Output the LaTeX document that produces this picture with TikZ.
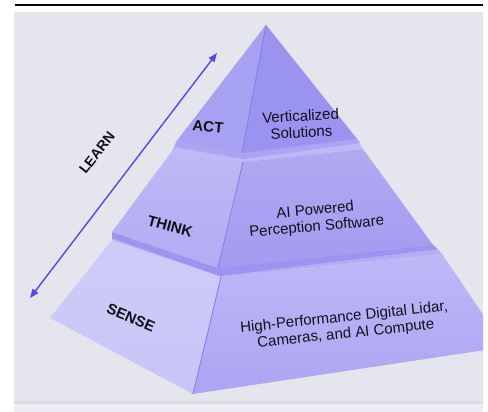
\documentclass[tikz,border=0pt]{standalone}
\usepackage{fontspec}
\setmainfont{Liberation Sans}
\usetikzlibrary{arrows.meta,calc}
\definecolor{bg}{HTML}{E5E5EE}
\definecolor{bgline}{HTML}{DADAE4}
\definecolor{bglow}{HTML}{EDEDF3}
\definecolor{actL}{HTML}{A7A1F2}
\definecolor{actR}{HTML}{9A93EF}
\definecolor{thkT}{HTML}{BDB8F6}
\definecolor{thkL}{HTML}{B2ACF4}
\definecolor{thkR}{HTML}{A29BF0}
\definecolor{snsT}{HTML}{B3ADF5}
\definecolor{snsL}{HTML}{CAC6F7}
\definecolor{snsR}{HTML}{ADA7F4}
\definecolor{ridge}{HTML}{8379EA}
\definecolor{shadowc}{HTML}{8A81EC}
\definecolor{arrowc}{HTML}{5548E0}
\definecolor{txt}{HTML}{111118}
\tikzset{
  lbl/.style={font=\fontsize{15}{16}\selectfont\bfseries, text=txt, inner sep=0pt},
  desc/.style={font=\fontsize{15}{16.5}\selectfont, text=txt, align=center, inner sep=0pt},
  ridgeline/.style={draw=ridge, line width=0.8pt},
  learnarrow/.style={draw=arrowc, line width=1.4pt, {Triangle[length=9pt,width=7pt]}-{Triangle[length=9pt,width=7pt]}}
}
\begin{document}
\begin{tikzpicture}[x=1pt,y=-1pt]
\useasboundingbox (0,0) rectangle (488,412);
\fill[white] (0,0) rectangle (488,412);
\fill[bg] (14,12) rectangle (483,401);
\fill[bgline] (14,401) rectangle (483,404);
\fill[bglow] (14,404) rectangle (483,412);
\draw[line width=2.5pt] (15,5) -- (483,5);
% coordinates
\coordinate (A) at (266,25);
\coordinate (L1) at (176,142);
\coordinate (F1) at (242,153);
\coordinate (R1) at (357,139);
\coordinate (L2t) at (172,151);
\coordinate (F2t) at (243,162);
\coordinate (R2t) at (363,149);
\coordinate (L2b) at (112,232);
\coordinate (F2b) at (218,268);
\coordinate (R2b) at (433,245);
\coordinate (L3t) at (112,240);
\coordinate (F3t) at (221,277);
\coordinate (R3t) at (442,254);
\coordinate (L3b) at (50,318);
\coordinate (F3b) at (193,394);
\coordinate (R3b) at (505,347);
\begin{scope}
\clip (14,12) rectangle (483,401);
% SENSE
\fill[snsT] (L3t) -- (F3t) -- (R3t) -- (R2b) -- (300,200) -- (L2b) -- cycle;
\shade[top color=snsL!90!white, bottom color=snsL!95!actL] (L3t) -- (F3t) -- (F3b) -- (L3b) -- cycle;
\shade[top color=snsR!80!white, bottom color=snsR!90!actR] (F3t) -- (R3t) -- (R3b) -- (F3b) -- cycle;
\fill[shadowc, opacity=0.55] (L2b) -- (F2b) -- (R2b) -- ($(R2b)+(5,4)$) -- ($(F2b)+(2,8)$) -- ($(L2b)+(0,6)$) -- cycle;
\draw[ridgeline] (F3t) -- (F3b);
% THINK
\fill[thkT] (L2t) -- (F2t) -- (R2t) -- (R1) -- (A) -- (L1) -- cycle;
\shade[top color=thkL!85!white, bottom color=thkL] (L2t) -- (F2t) -- (F2b) -- (L2b) -- cycle;
\shade[top color=thkR!85!white, bottom color=thkR] (F2t) -- (R2t) -- (R2b) -- (F2b) -- cycle;
\fill[shadowc, opacity=0.35] (L1) -- (F1) -- (R1) -- ($(R1)+(4,4)$) -- ($(F1)+(1,6)$) -- ($(L1)+(-1,5)$) -- cycle;
\draw[ridgeline] (F2t) -- (F2b);
% ACT
\fill[actL] (A) -- (L1) -- (F1) -- cycle;
\fill[actR] (A) -- (F1) -- (R1) -- cycle;
\draw[ridgeline] (A) -- (F1);
\end{scope}
% arrow
\coordinate (arrT) at (217,53);
\coordinate (arrB) at (30,298);
\draw[learnarrow] (arrB) -- (arrT);
% texts
\node[lbl, rotate=52, font=\fontsize{14}{15}\selectfont\bfseries] (learn) at (97,153) {LEARN};
\node[lbl, rotate=-5] (act) at (208,127) {ACT};
\node[lbl, rotate=-15] (think) at (170,226) {THINK};
\node[lbl, rotate=-23] (sense) at (131,318) {SENSE};
\node[desc, rotate=3] (actd) at (301,124) {Verticalized\\Solutions};
\node[desc, rotate=5] (thinkd) at (316,219) {AI Powered\\Perception Software};
\node[desc, rotate=6] (sensed) at (345,326) {High-Performance Digital Lidar,\\Cameras, and AI Compute};
\end{tikzpicture}
\end{document}
